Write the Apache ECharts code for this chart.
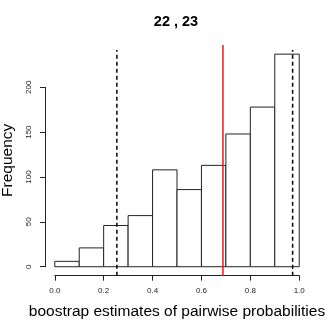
<!DOCTYPE html>
<html>
<head>
<meta charset="utf-8">
<script src="https://cdn.jsdelivr.net/npm/echarts@6/dist/echarts.min.js"></script>
<style>
  html, body { margin: 0; padding: 0; background: #fff; }
  #chart { width: 332px; height: 332px; }
</style>
</head>
<body>
<div id="chart"></div>
<script>
// histogram bins (left edges, width 0.1) and counts
var binStarts = [0.0, 0.1, 0.2, 0.3, 0.4, 0.5, 0.6, 0.7, 0.8, 0.9];
var binWidth = 0.1;
var counts = [6, 21, 46, 57, 108, 86, 113, 148, 178, 237];
// reference lines
var ciLines = [0.254, 0.973];   // dashed
var pointEst = [0.688];         // red
var xTicks = [0, 0.2, 0.4, 0.6, 0.8, 1.0];
var yTicks = [0, 50, 100, 150, 200];

var FONT = 'Liberation Sans, Arial, Helvetica, sans-serif';

var chart = echarts.init(document.getElementById('chart'));

var histData = binStarts.map(function (b, i) { return [b, b + binWidth, counts[i]]; });

function vline(x, top, color, dashed, width) {
  return {
    type: 'line',
    xAxisIndex: 0, yAxisIndex: 0,
    data: [[x, -10], [x, top]],
    symbol: 'none',
    silent: true,
    lineStyle: { color: color, width: width, type: dashed ? [4, 3] : 'solid' },
    z: 5
  };
}

var series = [{
  type: 'custom',
  xAxisIndex: 0, yAxisIndex: 0,
  data: histData,
  renderItem: function (params, api) {
    var p0 = api.coord([api.value(0), 0]);
    var p1 = api.coord([api.value(1), api.value(2)]);
    return {
      type: 'rect',
      shape: { x: p0[0], y: p1[1], width: p1[0] - p0[0], height: p0[1] - p1[1] },
      style: { fill: '#fff', stroke: '#222', lineWidth: 1 }
    };
  },
  z: 2
}];
ciLines.forEach(function (x) { series.push(vline(x, 241.6, '#000', true, 1.5)); });
pointEst.forEach(function (x) { series.push(vline(x, 247.2, '#f01818', false, 1.5)); });

var tickLabel = { fontFamily: FONT, fontSize: 8, color: '#222' };

chart.setOption({
  animation: false,
  backgroundColor: '#fff',
  grid: [
    { left: 45, right: 23, top: 45, bottom: 56.3, outerBoundsMode: 'none', containLabel: false },     // plot region
    { left: 54.8, right: 32.8, top: 260, bottom: 56.3, outerBoundsMode: 'none', containLabel: false }, // x axis
    { left: 45, right: 23, top: 87.3, bottom: 65.3, outerBoundsMode: 'none', containLabel: false }     // y axis
  ],
  xAxis: [
    { gridIndex: 0, type: 'value', min: -0.04, max: 1.04, show: false },
    {
      gridIndex: 1, type: 'value', min: 0, max: 1, interval: 0.2, position: 'bottom',
      axisLine: { show: true, lineStyle: { color: '#222', width: 1 } },
      axisTick: { show: true, inside: false, length: 5, lineStyle: { color: '#222' } },
      axisLabel: Object.assign({ margin: 11, formatter: function (v) { return v.toFixed(1); } }, tickLabel),
      splitLine: { show: false },
      name: 'boostrap estimates of pairwise probabilities',
      nameLocation: 'middle', nameGap: 28,
      nameTextStyle: { fontFamily: FONT, fontSize: 15.5, color: '#000' }
    },
    { gridIndex: 2, type: 'value', show: false }
  ],
  yAxis: [
    {
      gridIndex: 0, type: 'value', min: -10, max: 247.2,
      axisLine: { show: false }, axisTick: { show: false }, axisLabel: { show: false },
      splitLine: { show: false },
      name: 'Frequency', nameLocation: 'middle', nameGap: 29, nameRotate: 90,
      nameTextStyle: { fontFamily: FONT, fontSize: 15.5, color: '#000' }
    },
    { gridIndex: 1, type: 'value', show: false },
    {
      gridIndex: 2, type: 'value', min: 0, max: 200, interval: 50, position: 'left',
      axisLine: { show: true, lineStyle: { color: '#222', width: 1 } },
      axisTick: { show: true, inside: false, length: 5, lineStyle: { color: '#222' } },
      axisLabel: Object.assign({ margin: 12, rotate: 90 }, tickLabel),
      splitLine: { show: false }
    }
  ],
  graphic: [{
    type: 'text', x: 176, y: 22,
    style: {
      text: '22 , 23', fontFamily: FONT, fontSize: 14.5, fontWeight: 'bold',
      fill: '#000', textAlign: 'center', textVerticalAlign: 'middle'
    }
  }],
  series: series
});
</script>
</body>
</html>
